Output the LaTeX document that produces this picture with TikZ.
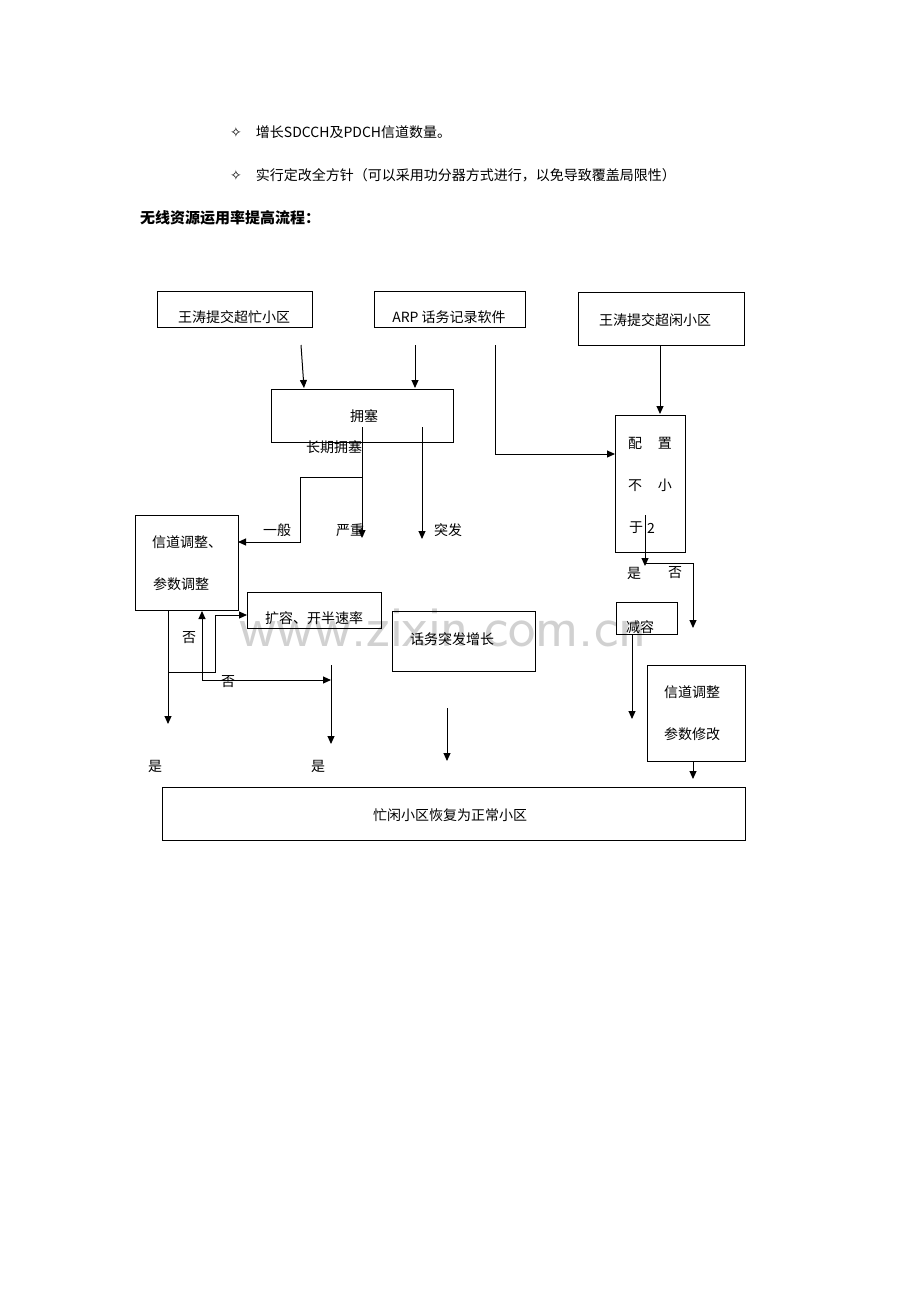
\documentclass[tikz,border=0pt]{standalone}
\usepackage{fontspec}
\setmainfont{Liberation Serif}
\newfontfamily\cjk{Noto Sans CJK SC}
\newfontfamily\sym{DejaVu Sans}
\usetikzlibrary{arrows.meta}
\begin{document}
\begin{tikzpicture}[x=1pt,y=-1pt,
 box/.style={draw,line width=0.9pt,inner sep=0},
 t/.style={font=\cjk\fontsize{14}{16}\selectfont,inner sep=0},
 ar/.style={line width=1pt,-{Triangle[length=8pt,width=7pt]}},
 ln/.style={line width=1pt}]
\useasboundingbox[fill=white] (0,0) rectangle (920,1302);
\node[text=black!18,font=\fontfamily{}\sffamily\fontsize{58}{60}\selectfont] (wm) at (443,628) {www.zixin.com.cn};
\node[t,anchor=west] (b1) at (230,132) {{\sym ✧}\hspace{14pt}增长SDCCH及PDCH信道数量。};
\node[t,anchor=west] (b2) at (230,175) {{\sym ✧}\hspace{14pt}实行定改全方针（可以采用功分器方式进行，以免导致覆盖局限性）};
\node[t,anchor=west,font=\cjk\bfseries\fontsize{15}{17}\selectfont] (hd) at (140,218) {无线资源运用率提高流程：};
% boxes
\draw[box] (157,291) rectangle (312,327); \node[t] (A) at (234,317) {王涛提交超忙小区};
\draw[box] (374,291) rectangle (525,327); \node[t] (B) at (449,317) {ARP 话务记录软件};
\draw[box] (578,292) rectangle (744,345); \node[t] (C) at (655,320) {王涛提交超闲小区};
\draw[box] (271,389) rectangle (453,442); \node[t] (D) at (364,416) {拥塞};
\node[t] (lq) at (334,447) {长期拥塞};
\draw[box] (615,415) rectangle (685,552);
\node[t] (E1) at (650,443) {配\hspace{16pt}置};
\node[t] (E2) at (650,485) {不\hspace{16pt}小};
\node[t] (E3) at (636,528) {于};
\node[t] (E4) at (651,528) {2};
\draw[box] (135,515) rectangle (238,610);
\node[t] (F1) at (187,542) {信道调整、};
\node[t] (F2) at (181,584) {参数调整};
\draw[box] (247,592) rectangle (381,628); \node[t] (G) at (314,618) {扩容、开半速率};
\draw[box] (392,611) rectangle (535,671); \node[t] (H) at (452,639) {话务突发增长};
\draw[box] (616,602) rectangle (677,634); \node[t] (I) at (640,627) {减容};
\draw[box] (647,665) rectangle (745,761);
\node[t] (J1) at (692,692) {信道调整};
\node[t] (J2) at (692,734) {参数修改};
\draw[box] (162,787) rectangle (745,840); \node[t] (K) at (450,815) {忙闲小区恢复为正常小区};
% labels
\node[t] (l1) at (277,530) {一般};
\node[t] (l2) at (350,530) {严重};
\node[t] (l3) at (448,530) {突发};
\node[t] (l4) at (634,573) {是};
\node[t] (l5) at (675,573) {否};
\node[t] (l6) at (189,638) {否};
\node[t] (l7) at (228,682) {否};
\node[t] (l8) at (155,766) {是};
\node[t] (l9) at (318,766) {是};
% coordinates
\coordinate (a1) at (301,345); \coordinate (a2) at (304,388);
\coordinate (c1) at (415,345); \coordinate (c2) at (415,388);
\coordinate (d1) at (495,345); \coordinate (d2) at (615,454);
\coordinate (e1) at (660,345); \coordinate (e2) at (660,414);
\coordinate (s1) at (362,427); \coordinate (s2) at (362,538);
\coordinate (g1) at (362,477); \coordinate (g2) at (238,542);
\coordinate (u1) at (422,427); \coordinate (u2) at (422,539);
\coordinate (p1) at (645,515); \coordinate (p2) at (645,566);
\coordinate (q1) at (645,563); \coordinate (q2) at (693,628);
\coordinate (r1) at (632,634); \coordinate (r2) at (632,719);
\coordinate (v1) at (693,761); \coordinate (v2) at (693,779);
\coordinate (f1) at (168,610); \coordinate (f2) at (168,724);
\coordinate (h1) at (168,672); \coordinate (h2) at (247,615);
\coordinate (m1) at (331,680); \coordinate (m2) at (202,611);
\coordinate (n1) at (331,665); \coordinate (n2) at (331,744);
\coordinate (o1) at (447,708); \coordinate (o2) at (447,761);
% arrows
\draw[ar] (a1) -- (a2);
\draw[ar] (c1) -- (c2);
\draw[ar] (d1) |- (d2);
\draw[ar] (e1) -- (e2);
\draw[ar] (s1) -- (s2);
\draw[ar] (g1) -- (300,477) -- (300,542) -- (g2);
\draw[ar] (u1) -- (u2);
\draw[ar] (p1) -- (p2);
\draw[ar] (q1) -| (q2);
\draw[ar] (r1) -- (r2);
\draw[ar] (v1) -- (v2);
\draw[ar] (f1) -- (f2);
\draw[ar] (h1) -- (215,672) |- (h2);
\draw[ar] (202,680) -- (m1);
\draw[ar] (202,680) -- (m2);
\draw[ar] (n1) -- (n2);
\draw[ar] (o1) -- (o2);
\end{tikzpicture}
\end{document}
